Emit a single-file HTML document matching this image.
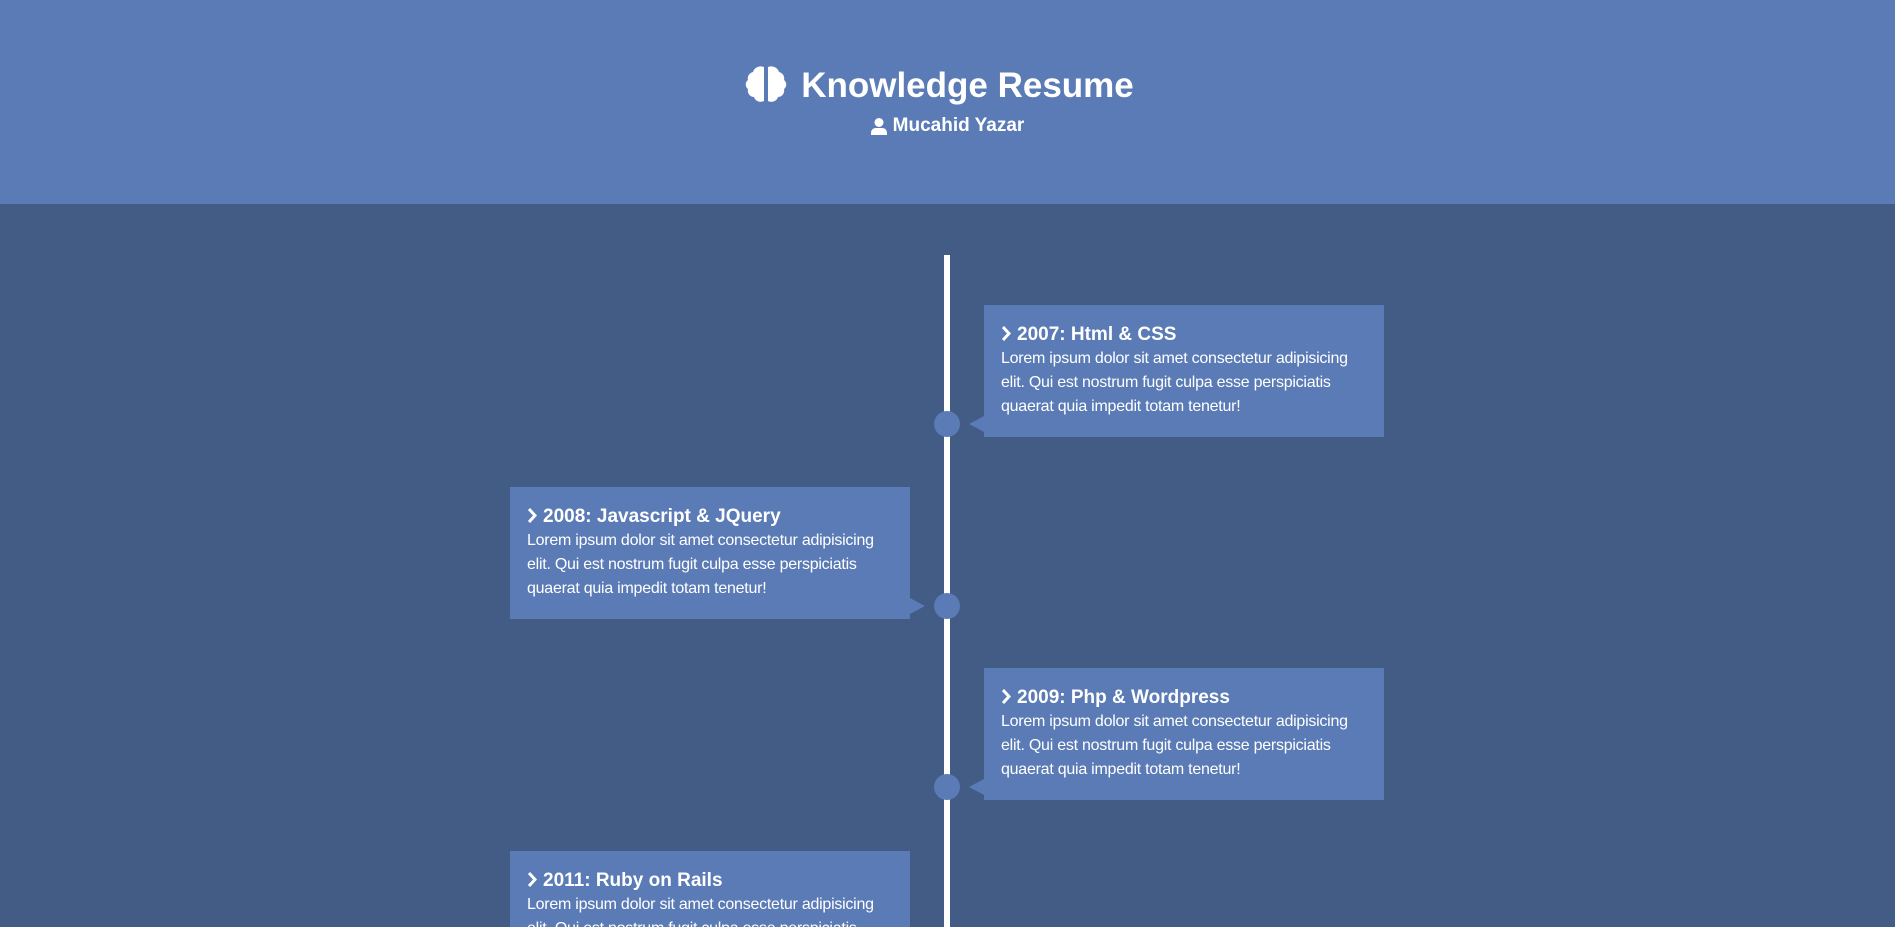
<!DOCTYPE html>
<html style="overflow:hidden"><head><meta charset="utf-8"><style>
*{margin:0;padding:0;box-sizing:border-box}
html,body{width:1895px;height:927px;overflow:hidden}
body{background:#425c86;font-family:"Liberation Sans",Arial,sans-serif;color:#fff}
.wrap{position:relative;width:1895px;height:927px;overflow:hidden}
.hdr{position:absolute;left:0;top:0;width:1895px;height:204px;background:#5a7bb5}
.t{position:absolute;left:0;width:1895px;text-align:center;font-weight:bold}
.line{position:absolute;left:944px;top:255px;width:6px;height:672px;background:#fff}
.box{position:absolute;width:400px;height:132px;background:#5a7bb5;padding:18px 12px 0 17px}
.box h3{font-size:19px;line-height:24px;font-weight:bold;margin-bottom:0}
.box h3 svg{vertical-align:-1px;margin-right:6px}
.box p{font-size:16px;line-height:24px;letter-spacing:-0.25px}
.dot{position:absolute;left:934px;width:26px;height:26px;border-radius:50%;background:#5a7bb5}
.tr{position:absolute;width:0;height:0;border-top:8px solid transparent;border-bottom:8px solid transparent}
.r .tr{left:-15px;bottom:5px;border-right:15px solid #5a7bb5}
.l .tr{right:-15px;bottom:5px;border-left:15px solid #5a7bb5}
</style></head><body><div class="wrap">
<div class="hdr"></div>
<svg style="position:absolute;left:745px;top:65px" width="42" height="38" viewBox="0 0 42 38"><path d="M19 2c-5-2-10 1-11 5-4 1-6 5-5 8-3 2-3 7 0 9-1 4 2 8 6 8 1 4 6 6 10 4z M23 2c5-2 10 1 11 5 4 1 6 5 5 8 3 2 3 7 0 9 1 4-2 8-6 8-1 4-6 6-10 4z" fill="#fff"/></svg>
<div class="t" style="top:66px;font-size:35px;line-height:40px;padding-left:40px">Knowledge Resume</div>
<svg style="position:absolute;left:871px;top:118px" width="16" height="17" viewBox="0 0 16 17"><circle cx="8" cy="4.5" r="4.5" fill="#fff"/><path d="M0 17v-2c0-3 2-5 5-5h6c3 0 5 2 5 5v2z" fill="#fff"/></svg>
<div class="t" style="top:115px;font-size:19px;line-height:22px;padding-left:22px">Mucahid Yazar</div>
<div class="line"></div>
<div class="box r" style="left:984px;top:305px"><div class="tr"></div><h3><svg width="10" height="15" viewBox="0 0 10 15"><path d="M2 1l6 6.5-6 6.5" stroke="#fff" stroke-width="3" fill="none"/></svg>2007: Html &amp; CSS</h3><p>Lorem ipsum dolor sit amet consectetur adipisicing elit. Qui est nostrum fugit culpa esse perspiciatis quaerat quia impedit totam tenetur!</p></div>
<div class="box l" style="left:510px;top:487px"><div class="tr"></div><h3><svg width="10" height="15" viewBox="0 0 10 15"><path d="M2 1l6 6.5-6 6.5" stroke="#fff" stroke-width="3" fill="none"/></svg>2008: Javascript &amp; JQuery</h3><p>Lorem ipsum dolor sit amet consectetur adipisicing elit. Qui est nostrum fugit culpa esse perspiciatis quaerat quia impedit totam tenetur!</p></div>
<div class="box r" style="left:984px;top:668px"><div class="tr"></div><h3><svg width="10" height="15" viewBox="0 0 10 15"><path d="M2 1l6 6.5-6 6.5" stroke="#fff" stroke-width="3" fill="none"/></svg>2009: Php &amp; Wordpress</h3><p>Lorem ipsum dolor sit amet consectetur adipisicing elit. Qui est nostrum fugit culpa esse perspiciatis quaerat quia impedit totam tenetur!</p></div>
<div class="box l" style="left:510px;top:851px"><div class="tr"></div><h3><svg width="10" height="15" viewBox="0 0 10 15"><path d="M2 1l6 6.5-6 6.5" stroke="#fff" stroke-width="3" fill="none"/></svg>2011: Ruby on Rails</h3><p>Lorem ipsum dolor sit amet consectetur adipisicing elit. Qui est nostrum fugit culpa esse perspiciatis quaerat quia impedit totam tenetur!</p></div>
<div class="dot" style="top:411px"></div>
<div class="dot" style="top:593px"></div>
<div class="dot" style="top:774px"></div>
</div></body></html>
